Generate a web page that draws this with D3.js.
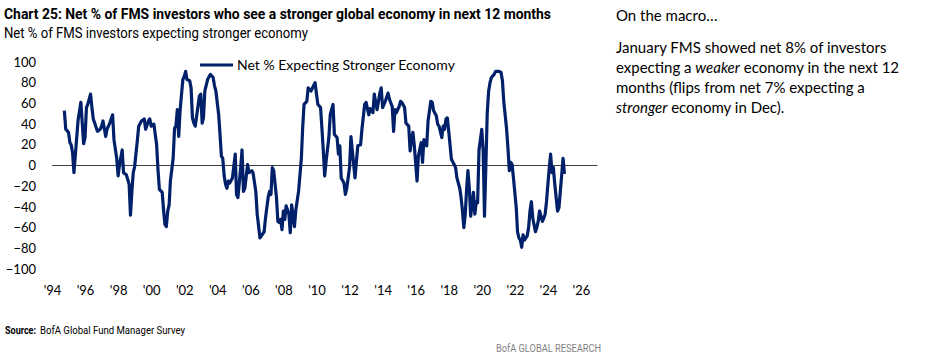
<!DOCTYPE html>
<html>
<head>
<meta charset="utf-8">
<script src="https://cdn.jsdelivr.net/npm/d3@7"></script>
<style>
  body { margin: 0; background: #fff; }
  svg { display: block; }
  .cond { font-family: "Liberation Sans Narrow", "Roboto", sans-serif; }
  .tick text { font-family: Lato, "Open Sans", sans-serif; font-size: 13px; fill: #000; }
</style>
</head>
<body>
<svg id="chart" width="932" height="363"></svg>
<script>
// monthly survey readings, "YYYY-MM"
const months = [
  "1994-10","1994-11","1995-01","1995-02","1995-03","1995-04","1995-05","1995-08","1995-10","1995-12",
  "1996-01","1996-02","1996-03","1996-05","1996-06","1996-07","1996-08","1996-10","1996-12",
  "1997-01","1997-02","1997-04","1997-05","1997-07","1997-09","1997-10","1997-12",
  "1998-01","1998-02","1998-04","1998-05","1998-07","1998-09","1998-10","1998-11","1998-12",
  "1999-01","1999-03","1999-04","1999-06","1999-08","1999-09","1999-11","1999-12",
  "2000-01","2000-03","2000-05","2000-06","2000-07","2000-09","2000-10","2000-11","2000-12",
  "2001-01","2001-02","2001-03","2001-05","2001-06","2001-07","2001-08","2001-09","2001-10","2001-12",
  "2002-01","2002-02","2002-03","2002-05","2002-06","2002-07","2002-08","2002-09","2002-12",
  "2003-01","2003-02","2003-03","2003-04","2003-06","2003-08","2003-10","2003-11","2003-12",
  "2004-02","2004-03","2004-04","2004-05","2004-06","2004-07","2004-08","2004-09","2004-10","2004-12",
  "2005-02","2005-03","2005-04","2005-06","2005-07","2005-08","2005-09","2005-11","2005-12",
  "2006-02","2006-03","2006-05","2006-06","2006-08","2006-09","2006-11","2006-12",
  "2007-02","2007-03","2007-04","2007-05","2007-06","2007-08","2007-09","2007-10","2007-11","2007-12",
  "2008-01","2008-02","2008-03","2008-05","2008-06","2008-07","2008-09","2008-10","2008-12",
  "2009-01","2009-02","2009-03","2009-04","2009-06","2009-07","2009-09","2009-12",
  "2010-01","2010-02","2010-04","2010-05","2010-06","2010-07","2010-08","2010-10","2010-11",
  "2011-01","2011-02","2011-04","2011-05","2011-06","2011-07","2011-09","2011-10","2011-11",
  "2012-01","2012-02","2012-05","2012-07","2012-09","2012-10","2012-12",
  "2013-01","2013-03","2013-04","2013-06","2013-07","2013-08","2013-09","2013-11","2013-12",
  "2014-01","2014-03","2014-05","2014-06","2014-08","2014-09","2014-10","2014-11",
  "2015-01","2015-02","2015-03","2015-05","2015-06","2015-08","2015-09","2015-10","2015-11","2015-12",
  "2016-02","2016-03","2016-05","2016-06","2016-07","2016-09","2016-10","2016-12",
  "2017-01","2017-02","2017-04","2017-05","2017-06","2017-08","2017-09","2017-10","2017-11","2017-12",
  "2018-01","2018-02","2018-03","2018-05","2018-06","2018-07","2018-09","2018-10","2018-11","2018-12",
  "2019-01","2019-02","2019-03","2019-04","2019-05","2019-07","2019-08","2019-09","2019-10","2019-11",
  "2020-01","2020-02","2020-03","2020-04","2020-05","2020-06","2020-07","2020-08","2020-10","2020-11",
  "2021-01","2021-03","2021-04","2021-05","2021-07","2021-08","2021-09","2021-10","2021-11","2021-12",
  "2022-02","2022-03","2022-04","2022-05","2022-06","2022-07","2022-08","2022-10","2022-11","2022-12",
  "2023-01","2023-02","2023-04","2023-05","2023-06","2023-07","2023-09","2023-10","2023-11","2023-12",
  "2024-01","2024-02","2024-03","2024-04","2024-05","2024-06","2024-08","2024-09","2024-11","2024-12",
  "2025-01"
];
const netStronger = [
  53, 35, 32, 22, 20, 12, -7, 44, 61, 21,
  27, 56, 59, 69, 56, 45, 41, 33, 35,
  38, 43, 28, 35, 41, 49, 25, 7,
  -10, 1, 15, -7, -9, -18, -48, -25, -7,
  -1, 24, 38, 43, 45, 35, 43, 45,
  38, 40, 20, -5, -23, -26, -43, -57, -59,
  -44, -38, -15, 7, 36, 38, 54, 28, 53, 83,
  86, 91, 83, 82, 75, 46, 41, 38, 67,
  69, 41, 46, 72, 83, 88, 85, 77, 72,
  49, 30, 9, 7, -10, -18, -22, -15, -17, -12,
  11, -28, -31, -2, 15, -25, -22, 1, -7,
  -5, -7, -25, -47, -70, -68, -64, -51,
  -30, -25, -28, -2, -5, -31, -54, -55, -52, -62,
  -44, -52, -39, -47, -65, -38, -59, -43, -25,
  -9, 7, 36, 59, 62, 75, 72, 80,
  69, 59, 56, 36, 14, -10, 4, 27, 49,
  59, 30, 27, 11, 19, -12, -17, -28, -22,
  -2, 28, -12, 19, 20, 35, 59,
  61, 49, 55, 51, 69, 61, 54, 70, 75,
  56, 62, 70, 64, 57, 33, 54, 51,
  57, 62, 61, 56, 41, 38, 14, 24, 32, 20,
  -15, 9, 22, 3, 25, 19, 43, 62,
  61, 53, 48, 40, 38, 27, 38, 35, 45, 46,
  33, 19, 6, 1, -2, -12, -22, -31, -44, -60,
  -47, -22, -5, -22, -49, -26, -47, -35, -36, 15,
  35, 14, -49, 1, 51, 72, 80, 85, 88, 91,
  91, 90, 82, 62, 36, 17, -5, 3, 1, -12,
  -41, -64, -70, -72, -79, -67, -72, -68, -60, -44,
  -35, -51, -64, -60, -54, -44, -54, -51, -47, -35,
  -18, -2, 11, -7, -2, -18, -44, -41, -9, 7,
  -8
];
const yTicks = [-100, -80, -60, -40, -20, 0, 20, 40, 60, 80, 100];
const xTickYears = d3.range(1994, 2027, 2);
const seriesName = "Net % Expecting Stronger Economy";

const parseMonth = d3.timeParse("%Y-%m");
const data = months.map((m, i) => ({ date: parseMonth(m), value: netStronger[i] }));

const svg = d3.select("#chart");
const navy = "#002169";

// narrow house font isn't available, so squeeze text to the original widths
function narrowText(x, y, width, size, str) {
    return svg.append("text").attr("class", "cond")
        .attr("x", x).attr("y", y)
        .attr("textLength", width).attr("lengthAdjust", "spacingAndGlyphs")
        .style("font-size", size + "px")
        .text(str);
}

// titles
narrowText(4, 19, 547, 15, "Chart 25: Net % of FMS investors who see a stronger global economy in next 12 months")
    .style("font-weight", "bold");
narrowText(4, 38, 304, 14, "Net % of FMS investors expecting stronger economy");

// scales
const x = d3.scaleTime()
    .domain([new Date(1994, 0, 1), new Date(2027, 0, 1)])
    .range([52, 597.5]);
const y = d3.scaleLinear().domain([-100, 100]).range([269, 62]);

// y axis labels
svg.append("g")
    .attr("transform", "translate(36,0)")
    .call(d3.axisLeft(y).tickValues(yTicks).tickSize(0).tickPadding(0))
    .call(g => g.select(".domain").remove());

// x axis labels
svg.append("g")
    .attr("transform", "translate(0,283)")
    .call(d3.axisBottom(x)
        .tickValues(xTickYears.map(yr => new Date(yr, 0, 1)))
        .tickFormat(d => "'" + d3.timeFormat("%y")(d))
        .tickSize(0).tickPadding(3))
    .call(g => g.select(".domain").remove());

// zero line
svg.append("line")
    .attr("x1", x.range()[0]).attr("x2", x.range()[1])
    .attr("y1", y(0)).attr("y2", y(0))
    .attr("stroke", "#404040").attr("stroke-width", 1);

// series
svg.append("path")
    .datum(data)
    .attr("fill", "none")
    .attr("stroke", navy)
    .attr("stroke-width", 3.2)
    .attr("stroke-linejoin", "round")
    .attr("d", d3.line().x(d => x(d.date)).y(d => y(d.value)));

// legend
const legend = svg.append("g").attr("transform", "translate(200,65)");
legend.append("line").attr("x1", 0).attr("x2", 33)
    .attr("stroke", navy).attr("stroke-width", 3.2);
legend.append("text").attr("x", 37).attr("y", 5)
    .style("font-family", "Lato, 'Open Sans', sans-serif").style("font-size", "14px")
    .text(seriesName);

// source + branding
narrowText(5, 334, 31, 10, "Source:").style("font-weight", "bold");
narrowText(40, 334, 145, 10.5, "BofA Global Fund Manager Survey");
narrowText(496, 352, 105, 11, "BofA GLOBAL RESEARCH").attr("fill", "#7f7f7f");

// commentary on the right
const note = svg.append("text")
    .style("font-family", "Lato, 'Open Sans', sans-serif").style("font-size", "15px");
note.append("tspan").attr("x", 616).attr("y", 21).text("On the macro…");
const lines = [
  [["January FMS showed net 8% of investors", false]],
  [["expecting a ", false], ["weaker", true], [" economy in the next 12", false]],
  [["months (flips from net 7% expecting a", false]],
  [["stronger", true], [" economy in Dec).", false]]
];
lines.forEach((parts, i) => {
  parts.forEach(([t, it], j) => {
    const ts = note.append("tspan").text(t).style("font-style", it ? "italic" : "normal");
    if (j === 0) ts.attr("x", 616).attr("y", 53 + i * 20);
  });
});
</script>
</body>
</html>
